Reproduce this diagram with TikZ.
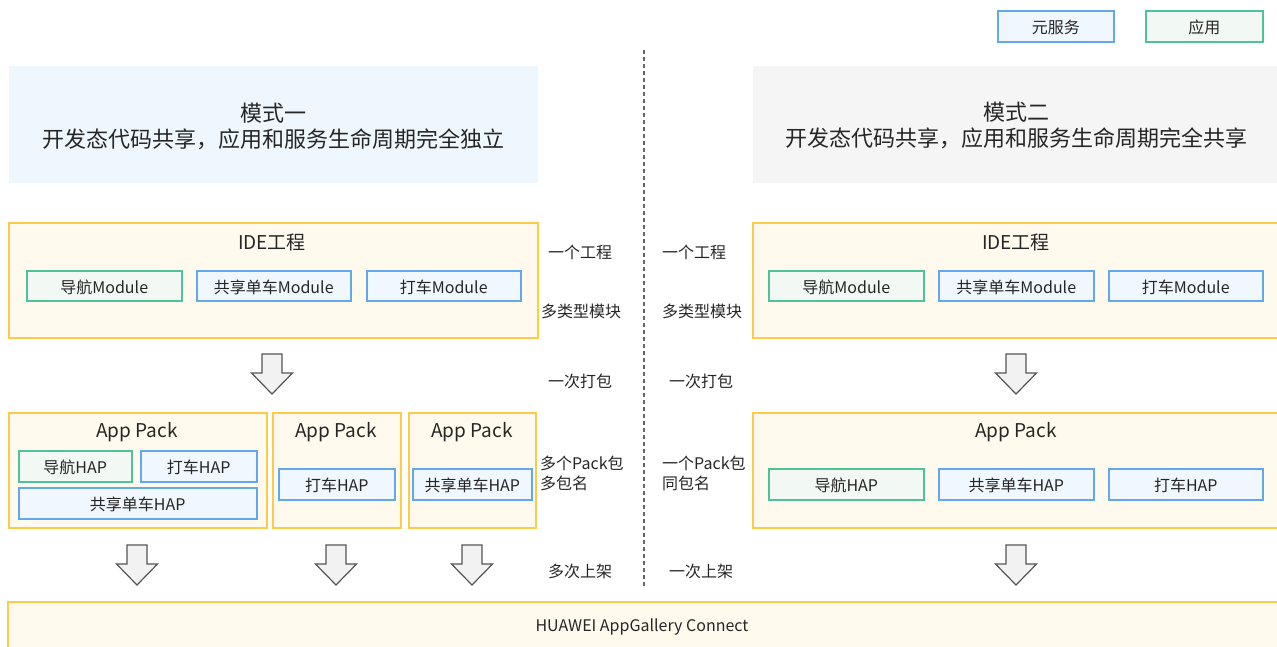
\documentclass[tikz,border=0pt]{standalone}
\usepackage{fontspec}
\setmainfont{Noto Sans CJK SC}
\definecolor{txt}{HTML}{262626}
\definecolor{yline}{HTML}{FCCB4A}
\definecolor{yfill}{HTML}{FFF9EE}
\definecolor{bline}{HTML}{62A8EC}
\definecolor{bfill}{HTML}{F0F7FF}
\definecolor{gline}{HTML}{4EC29B}
\definecolor{gfill}{HTML}{F2F9F5}
\definecolor{m1fill}{HTML}{EEF7FE}
\definecolor{m2fill}{HTML}{F5F5F5}
\definecolor{arrline}{HTML}{555555}
\definecolor{arrfill}{HTML}{F2F2F2}
\tikzset{
  every node/.style={text=txt, inner sep=0},
  boxbase/.style={rectangle, anchor=north west, inner sep=0, line width=1.5},
  yellowbox/.style={boxbase, draw=yline, fill=yfill},
  bluebox/.style={boxbase, draw=bline, fill=bfill},
  greenbox/.style={boxbase, draw=gline, fill=gfill},
  modebox/.style={boxbase},
  lbl/.style={font=\fontsize{16}{20}\selectfont, yshift=-1.5pt},
  ttl/.style={font=\fontsize{19}{22}\selectfont, yshift=-1.5pt},
  side/.style={font=\fontsize{16}{20}\selectfont, align=left, yshift=-1pt},
  blockarrow/.style={draw=arrline, fill=arrfill, line width=1.2, line join=miter},
  dnarrow/.pic={\path[blockarrow] (-10,0) -- (10,0) -- (10,19) -- (20.5,19) -- (0,40) -- (-20.5,19) -- (-10,19) -- cycle;}
}
\begin{document}
\begin{tikzpicture}[x=1pt,y=-1pt]
\useasboundingbox (0,0) rectangle (1277,646);
% legend
\node[bluebox, minimum width=116, minimum height=31] (legB) at (997,10) {};
\node[lbl] at (legB.center) {元服务};
\node[greenbox, minimum width=117, minimum height=31] (legG) at (1145,10) {};
\node[lbl] at (legG.center) {应用};
% divider
\coordinate (divT) at (644,50);
\coordinate (divB) at (644,588);
\draw[color=arrline!90, line width=1.5, dash pattern=on 4 off 3] (divT) -- (divB);
% mode boxes
\node[modebox, fill=m1fill, minimum width=529, minimum height=117] (m1) at (8,65) {};
\node[font=\fontsize{22}{26}\selectfont, align=center] at ([yshift=-2]m1.center) {模式一\\开发态代码共享，应用和服务生命周期完全独立};
\node[modebox, fill=m2fill, minimum width=530, minimum height=117] (m2) at (752,65) {};
\node[font=\fontsize{22}{26}\selectfont, align=center] at (1016,125) {模式二\\开发态代码共享，应用和服务生命周期完全共享};
% IDE left
\node[yellowbox, minimum width=529, minimum height=115] (ideL) at (8,222) {};
\node[ttl] (ideLt) at (272,241) {IDE工程};
\node[greenbox, minimum width=155, minimum height=30] (navM) at (26,270) {};
\node[lbl] at (navM.center) {导航Module};
\node[bluebox, minimum width=154, minimum height=30] (bikeM) at (196,270) {};
\node[lbl] at (bikeM.center) {共享单车Module};
\node[bluebox, minimum width=154, minimum height=30] (taxiM) at (366,270) {};
\node[lbl] at (taxiM.center) {打车Module};
% IDE right
\node[yellowbox, minimum width=530, minimum height=115] (ideR) at (752,222) {};
\node[ttl] (ideRt) at (1016,241) {IDE工程};
\node[greenbox, minimum width=155, minimum height=30] (navM2) at (768,270) {};
\node[lbl] at (navM2.center) {导航Module};
\node[bluebox, minimum width=155, minimum height=30] (bikeM2) at (938,270) {};
\node[lbl] at (bikeM2.center) {共享单车Module};
\node[bluebox, minimum width=154, minimum height=30] (taxiM2) at (1108,270) {};
\node[lbl] at (taxiM2.center) {打车Module};
% arrows pack
\pic at (272,354) {dnarrow};
\pic at (1016,354) {dnarrow};
% packs left
\node[yellowbox, minimum width=258, minimum height=115] (p1) at (8,412) {};
\node[ttl] at (137,431) {App Pack};
\node[greenbox, minimum width=113, minimum height=31] (p1n) at (18,450) {};
\node[lbl] at (p1n.center) {导航HAP};
\node[bluebox, minimum width=116, minimum height=31] (p1t) at (140,450) {};
\node[lbl] at (p1t.center) {打车HAP};
\node[bluebox, minimum width=238, minimum height=31] (p1b) at (18,487) {};
\node[lbl] at (p1b.center) {共享单车HAP};
\node[yellowbox, minimum width=128, minimum height=115] (p2) at (272,412) {};
\node[ttl] at (336,431) {App Pack};
\node[bluebox, minimum width=116, minimum height=31] (p2t) at (278,468) {};
\node[lbl] at (p2t.center) {打车HAP};
\node[yellowbox, minimum width=127, minimum height=115] (p3) at (408,412) {};
\node[ttl] at (472,431) {App Pack};
\node[bluebox, minimum width=119, minimum height=31] (p3b) at (412,468) {};
\node[lbl] at (p3b.center) {共享单车HAP};
% pack right
\node[yellowbox, minimum width=530, minimum height=115] (pR) at (752,412) {};
\node[ttl] at (1016,431) {App Pack};
\node[greenbox, minimum width=155, minimum height=31] (pRn) at (768,468) {};
\node[lbl] at (pRn.center) {导航HAP};
\node[bluebox, minimum width=155, minimum height=31] (pRb) at (938,468) {};
\node[lbl] at (pRb.center) {共享单车HAP};
\node[bluebox, minimum width=154, minimum height=31] (pRt) at (1108,468) {};
\node[lbl] at (pRt.center) {打车HAP};
% arrows release
\pic at (137,545) {dnarrow};
\pic at (336,545) {dnarrow};
\pic at (472,545) {dnarrow};
\pic at (1016,545) {dnarrow};
% side labels
\node[side] at (580,251) {一个工程};
\node[side] at (581,310) {多类型模块};
\node[side] at (580,380) {一次打包};
\node[side, anchor=west] at (540,472) {多个Pack包\\多包名};
\node[side] at (580,570) {多次上架};
\node[side] at (694,251) {一个工程};
\node[side] at (702,310) {多类型模块};
\node[side] at (701,380) {一次打包};
\node[side, anchor=west] at (662,472) {一个Pack包\\同包名};
\node[side] at (701,570) {一次上架};
% bottom bar
\node[boxbase, fill=yfill, minimum width=1275, minimum height=50] (agc) at (8,602) {};
\draw[yline, line width=1.5] (agc.south west) -- (agc.north west) -- (agc.north east);
\node[font=\fontsize{16}{20}\selectfont] at (642,627) {HUAWEI AppGallery Connect};
\end{tikzpicture}
\end{document}
